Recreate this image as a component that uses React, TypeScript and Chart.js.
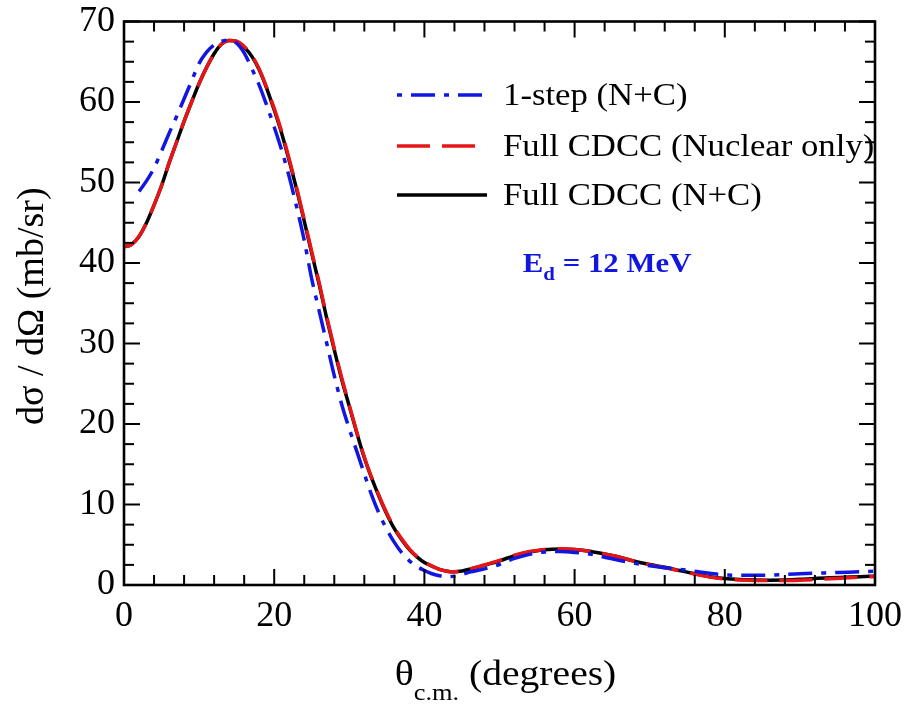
import React, { useEffect, useRef } from "react";
import { Chart, registerables } from "chart.js";

Chart.register(...registerables);

// ---------- data ----------
const thetaFull = [
  0, 1, 2, 3, 4, 5, 6, 7, 8, 9, 10, 11, 12, 13, 14, 15, 16, 17, 18, 19, 20, 21, 22, 23, 24,
  25, 26, 27, 28, 29, 30, 31, 32, 33, 34, 35, 36, 37, 38, 39, 40, 41, 42, 43, 44, 45, 46, 47, 48,
  50, 52, 54, 56, 58, 60, 62, 64, 66, 68, 70, 72, 74, 76, 78, 80, 82, 84, 86, 88, 90, 92, 94, 96, 98, 100,
];
const sigmaFullNC = [
  42.0, 42.3, 43.3, 45.0, 47.2, 49.6, 52.4, 55.0, 57.6, 60.0, 62.3, 64.3, 66.0, 67.2, 67.65, 67.5, 66.8, 65.7, 64.0, 61.7, 59.0, 56.1, 52.7, 49.1, 45.2,
  41.2, 37.3, 33.1, 29.2, 25.5, 22.2, 18.9, 15.8, 13.2, 10.9, 8.8, 7.0, 5.6, 4.4, 3.5, 2.8, 2.35, 1.95, 1.72, 1.65, 1.75, 1.95, 2.2, 2.45,
  3.0, 3.65, 4.1, 4.37, 4.47, 4.4, 4.2, 3.85, 3.45, 2.95, 2.55, 2.2, 1.8, 1.4, 1.02, 0.8, 0.68, 0.62, 0.6, 0.62, 0.7, 0.82, 0.9, 0.96, 1.02, 1.1,
];
const sigmaFullNuc = [
  42.0, 42.3, 43.3, 45.0, 47.2, 49.6, 52.4, 55.0, 57.6, 60.0, 62.3, 64.3, 66.0, 67.2, 67.65, 67.55, 66.9, 65.8, 64.1, 61.8, 59.2, 56.3, 52.9, 49.3, 45.4,
  41.4, 37.5, 33.3, 29.4, 25.7, 22.3, 19.0, 15.9, 13.3, 11.0, 8.9, 7.1, 5.7, 4.5, 3.55, 2.85, 2.35, 1.95, 1.72, 1.65, 1.75, 1.97, 2.22, 2.48,
  3.05, 3.7, 4.15, 4.42, 4.5, 4.42, 4.2, 3.85, 3.45, 2.95, 2.5, 2.15, 1.75, 1.35, 0.98, 0.75, 0.62, 0.56, 0.55, 0.56, 0.6, 0.68, 0.78, 0.88, 0.97, 1.05,
];
const thetaOneStep = [
  2, 3, 4, 5, 6, 7, 8, 9, 10, 11, 12, 13, 14, 15, 16, 17, 18, 19, 20, 21, 22, 23, 24, 25, 26,
  27, 28, 29, 30, 31, 32, 33, 34, 35, 36, 37, 38, 39, 40, 41, 42, 43, 44, 45, 46,
  48, 50, 52, 54, 56, 58, 60, 62, 64, 66, 68, 70, 72, 74, 76, 78, 80, 85, 90, 95, 100,
];
const sigmaOneStep = [
  48.9, 50.2, 51.8, 53.9, 56.1, 58.2, 60.4, 62.6, 64.8, 66.2, 67.1, 67.55, 67.7, 67.3, 66.1, 64.2, 62.1, 59.6, 56.9, 54.0, 50.7, 46.9, 42.8, 38.0, 34.0,
  30.0, 26.0, 22.4, 19.4, 16.6, 13.8, 11.1, 8.8, 6.9, 5.3, 4.0, 3.0, 2.3, 1.8, 1.4, 1.15, 1.0, 1.1, 1.3, 1.6,
  2.0, 2.55, 3.3, 3.8, 4.1, 4.15, 4.05, 3.85, 3.45, 3.05, 2.7, 2.4, 2.15, 1.95, 1.7, 1.45, 1.25, 1.2, 1.4, 1.55, 1.7,
];
const seriesLabels = ["1-step (N+C)", "Full CDCC (Nuclear only)", "Full CDCC (N+C)"];
const energyMain = "E";
const energySub = "d";
const energyRest = " = 12 MeV";
const yTitle = "dσ / dΩ (mb/sr)";
const xTitleMain = "θ";
const xTitleSub = "c.m.";
const xTitleRest = " (degrees)";
const xRange = [0, 100];
const yRange = [0, 70];
const xMajorStep = 20;
const xMinorStep = 4;
const yMajorStep = 10;
const yMinorStep = 2.5;

// ---------- style ----------
const SERIF = "'Liberation Serif', 'Times New Roman', serif";
const BLUE = "rgb(18, 22, 225)";
const RED = "rgb(230, 22, 22)";
const BLACK = "#000";

function toPoints(xs: number[], ys: number[]) {
  return xs.map((x, i) => ({ x, y: ys[i] }));
}

function stretchedText(ctx: CanvasRenderingContext2D, text: string, x: number, y: number, sx: number) {
  ctx.save();
  ctx.translate(x, y);
  ctx.scale(sx, 1);
  ctx.fillText(text, 0, 0);
  ctx.restore();
  return ctx.measureText(text).width * sx;
}

const framePlugin = {
  id: "frameTicks",
  afterDraw(chart: any) {
    const { ctx, chartArea: a, scales } = chart;
    const xs = scales.x;
    const ys = scales.y;
    ctx.save();
    ctx.strokeStyle = BLACK;
    ctx.lineWidth = 2;
    const seg = (x1: number, y1: number, x2: number, y2: number) => {
      ctx.beginPath();
      ctx.moveTo(x1, y1);
      ctx.lineTo(x2, y2);
      ctx.stroke();
    };
    for (let v = xRange[0]; v <= xRange[1] + 1e-9; v += xMinorStep) {
      const px = xs.getPixelForValue(v);
      const major = Math.abs(v / xMajorStep - Math.round(v / xMajorStep)) < 1e-6;
      const len = major ? 16 : 10;
      seg(px, a.bottom, px, a.bottom - len);
      seg(px, a.top, px, a.top + len);
    }
    for (let v = yRange[0]; v <= yRange[1] + 1e-9; v += yMinorStep) {
      const py = ys.getPixelForValue(v);
      const major = Math.abs(v / yMajorStep - Math.round(v / yMajorStep)) < 1e-6;
      const len = major ? 16 : 10;
      seg(a.left, py, a.left + len, py);
      seg(a.right, py, a.right - len, py);
    }
    ctx.lineWidth = 2.6;
    ctx.strokeRect(a.left, a.top, a.right - a.left, a.bottom - a.top);
    ctx.restore();
  },
};

const textPlugin = {
  id: "texts",
  afterDraw(chart: any) {
    const { ctx, chartArea: a } = chart;
    const w = a.right - a.left;
    const h = a.bottom - a.top;
    ctx.save();
    ctx.fillStyle = BLACK;

    // y title
    ctx.save();
    ctx.translate(33, (a.top + a.bottom) / 2 + 3);
    ctx.rotate(-Math.PI / 2);
    ctx.font = `38px ${SERIF}`;
    ctx.textAlign = "center";
    ctx.textBaseline = "middle";
    ctx.fillText(yTitle, 0, 0);
    ctx.restore();

    // x title
    const sx = 1.1;
    ctx.textBaseline = "alphabetic";
    ctx.textAlign = "left";
    ctx.font = `36px ${SERIF}`;
    const wMain = ctx.measureText(xTitleMain).width * sx;
    const wRest = ctx.measureText(xTitleRest).width * sx;
    ctx.font = `24px ${SERIF}`;
    const wSub = ctx.measureText(xTitleSub).width * sx;
    const total = wMain + wSub + wRest;
    let tx = a.left + w / 2 + 6 - total / 2;
    const base = a.bottom + 100;
    ctx.font = `36px ${SERIF}`;
    tx += stretchedText(ctx, xTitleMain, tx, base, sx);
    ctx.font = `24px ${SERIF}`;
    tx += stretchedText(ctx, xTitleSub, tx, base + 15, sx);
    ctx.font = `36px ${SERIF}`;
    stretchedText(ctx, xTitleRest, tx, base, sx);

    // legend
    const datasets = chart.data.datasets;
    const lx1 = a.left + w * 0.3635;
    const lx2 = a.left + w * 0.4834;
    const ltx = a.left + w * 0.5047;
    const rows = [0.1304, 0.221, 0.3079];
    ctx.font = `31px ${SERIF}`;
    ctx.textBaseline = "middle";
    datasets.forEach((ds: any, i: number) => {
      const ly = a.top + h * rows[i];
      ctx.save();
      ctx.strokeStyle = ds.borderColor;
      ctx.lineWidth = ds.borderWidth;
      ctx.setLineDash(ds.borderDash || []);
      ctx.lineDashOffset = ds.legendDashOffset || 0;
      ctx.beginPath();
      ctx.moveTo(lx1, ly);
      ctx.lineTo(lx2, ly);
      ctx.stroke();
      ctx.restore();
      ctx.fillStyle = BLACK;
      stretchedText(ctx, seriesLabels[i], ltx, ly + 2, 1.12);
    });

    // energy annotation
    ctx.fillStyle = BLUE;
    ctx.textBaseline = "alphabetic";
    let ex = a.left + w * 0.531;
    const ey = a.top + h * 0.4445;
    ctx.font = `bold 28px ${SERIF}`;
    ex += stretchedText(ctx, energyMain, ex, ey, 1.1);
    ctx.font = `bold 19px ${SERIF}`;
    ex += stretchedText(ctx, energySub, ex, ey + 8, 1.1);
    ctx.font = `bold 28px ${SERIF}`;
    stretchedText(ctx, energyRest, ex, ey, 1.1);

    ctx.restore();
  },
};

function zeroPadding(scale: any) {
  scale.paddingTop = 0;
  scale.paddingBottom = 0;
  scale.paddingLeft = 0;
  scale.paddingRight = 0;
}

export default function App() {
  const canvasRef = useRef<HTMLCanvasElement | null>(null);

  useEffect(() => {
    const canvas = canvasRef.current;
    if (!canvas) return;
    const tickFont = { family: SERIF, size: 36 };
    const chart = new Chart(canvas, {
      type: "line",
      data: {
        datasets: [
          {
            label: seriesLabels[0],
            data: toPoints(thetaOneStep, sigmaOneStep),
            borderColor: BLUE,
            borderWidth: 3.5,
            borderDash: [24, 9, 5, 9],
            pointRadius: 0,
            fill: false,
            cubicInterpolationMode: "monotone",
            legendDashOffset: 33,
          } as any,
          {
            label: seriesLabels[1],
            data: toPoints(thetaFull, sigmaFullNuc),
            borderColor: RED,
            borderWidth: 3.5,
            borderDash: [33, 12],
            pointRadius: 0,
            fill: false,
            cubicInterpolationMode: "monotone",
          } as any,
          {
            label: seriesLabels[2],
            data: toPoints(thetaFull, sigmaFullNC),
            borderColor: BLACK,
            borderWidth: 3.5,
            pointRadius: 0,
            fill: false,
            cubicInterpolationMode: "monotone",
          } as any,
        ],
      },
      options: {
        animation: false,
        responsive: false,
        maintainAspectRatio: false,
        layout: { padding: { left: 0, top: 21.5, right: 36, bottom: 0 } },
        plugins: {
          legend: { display: false },
          tooltip: { enabled: false },
          title: { display: false },
        },
        scales: {
          x: {
            type: "linear",
            min: xRange[0],
            max: xRange[1],
            grid: { display: false, drawTicks: false },
            border: { display: false },
            ticks: {
              stepSize: xMajorStep,
              font: tickFont,
              color: BLACK,
              padding: 10,
              maxRotation: 0,
              autoSkip: false,
            },
            afterFit: (scale: any) => {
              scale.height = 121;
              zeroPadding(scale);
            },
          },
          y: {
            type: "linear",
            min: yRange[0],
            max: yRange[1],
            grid: { display: false, drawTicks: false },
            border: { display: false },
            ticks: {
              stepSize: yMajorStep,
              font: tickFont,
              color: BLACK,
              padding: 9,
              autoSkip: false,
            },
            afterFit: (scale: any) => {
              scale.width = 124;
              zeroPadding(scale);
            },
          },
        },
      },
      plugins: [framePlugin, textPlugin],
    });
    return () => chart.destroy();
  }, []);

  return (
    <div style={{ position: "fixed", left: 0, top: 0, width: 911, height: 706, background: "#fff" }}>
      <canvas ref={canvasRef} width={911} height={706} style={{ width: 911, height: 706, display: "block" }} />
    </div>
  );
}
